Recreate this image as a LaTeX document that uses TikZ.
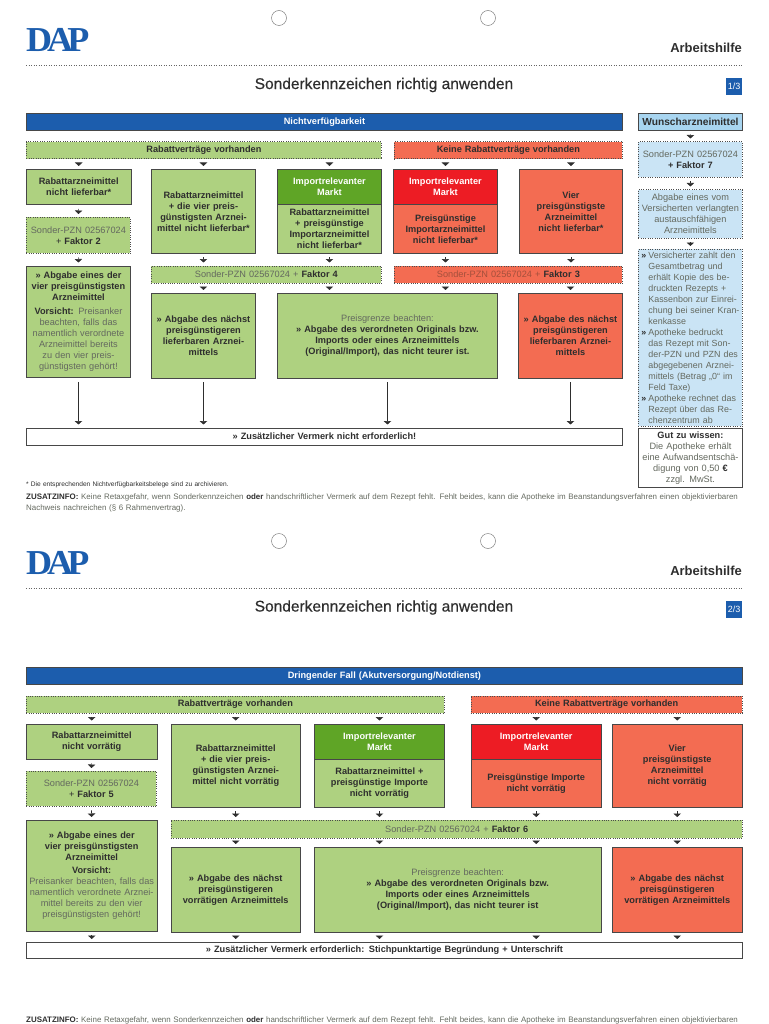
\documentclass[tikz,border=0pt]{standalone}
\usepackage{fontspec}
\setmainfont{Liberation Sans}
\newfontfamily\logofont{Liberation Serif}
\newfontfamily\titelfont[FakeBold=.4]{Liberation Sans}
\usetikzlibrary{calc,arrows.meta}
\definecolor{hgruen}{HTML}{AED180}
\definecolor{dgruen}{HTML}{5FA526}
\definecolor{hrot}{HTML}{F36C52}
\definecolor{drot}{HTML}{ED1C24}
\definecolor{dapblau}{HTML}{1C5DAD}
\definecolor{hblau}{HTML}{A8D5F0}
\definecolor{pblau}{HTML}{CAE4F5}
\definecolor{dunkel}{HTML}{2E2E2E}
\definecolor{grau}{HTML}{64695F}
\definecolor{graurot}{HTML}{A4503C}
\newcommand{\lt}[1]{\textcolor{grau}{#1}}
\newcommand{\pkt}{\hspace*{2pt}\makebox[7pt][l]{\textbf{»}}}
\newcommand{\ein}{\hspace*{9pt}}
\tikzset{every node/.style={align=center,text=dunkel,font=\fontsize{9.2}{11}\selectfont}}
\tikzset{
  feld/.style 2 args={anchor=north west,inner xsep=1pt,inner ysep=0pt,minimum width=#1,minimum height=#2,text width=#1-2pt},
  voll/.style={draw=black!72,line width=.9pt},
  punkt/.style={draw=black!70,line width=.8pt,dash pattern=on .8pt off 1.5pt},
  pfeil/.style={-{Triangle[width=7.5pt,length=3.5pt]},line width=.6pt,draw=dunkel,shorten <=3.5pt,shorten >=3pt},
  langpfeil/.style={-{Triangle[width=7.5pt,length=3.5pt]},line width=.7pt,draw=dunkel,shorten <=4pt,shorten >=3pt},
  logo/.style={anchor=west,inner sep=0pt,text=dapblau,font=\logofont\bfseries\fontsize{35}{35}\selectfont,xscale=1.03,transform shape},
  loch/.style={circle,draw=black!50,line width=.5pt,minimum size=15pt,inner sep=0pt},
  kopf/.style={anchor=east,inner sep=0pt,font=\bfseries\fontsize{13}{14}\selectfont},
  titel/.style={inner sep=0pt,font=\titelfont\fontsize{15.5}{18}\selectfont},
  seite/.style={fill=dapblau,text=white,inner sep=0pt,minimum width=16pt,minimum height=17pt,font=\fontsize{9}{9}\selectfont},
  trenn/.style={draw=black!60,line width=.7pt,dash pattern=on .7pt off 1.8pt},
  info/.style={anchor=north west,inner sep=0pt,align=left,text width=730pt,font=\fontsize{7.94}{11}\selectfont},
}
\begin{document}
\begin{tikzpicture}[x=1pt,y=-1pt,>=stealth]
\useasboundingbox (0,0) rectangle (768,1024);

% Seite 1
\node[logo] (D1) at (26,40) {D\kern-.14em A\kern-.16em P};
\node[loch] (H1) at (279,18) {};
\node[loch] (H2) at (488,18) {};
\node[kopf] (K1) at (742,48) {Arbeitshilfe};
\coordinate (T1a) at (26,65);
\coordinate (T1b) at (742,65);
\draw[trenn] (T1a) -- (T1b);
\node[titel] (S1) at (384,85) {Sonderkennzeichen richtig anwenden};
\node[seite] (P1) at (734,86.5) {1/3};

\node[feld={596pt}{17pt},voll,fill=dapblau,text=white] (NV) at (26,113) {\textbf{Nichtverfügbarkeit}};
\node[feld={104pt}{17pt},voll,fill=hblau,font=\fontsize{10.2}{11}\selectfont] (W) at (638,113) {\textbf{Wunscharzneimittel}};

\node[feld={355pt}{17pt},punkt,fill=hgruen] (RV) at (26,141.5) {\textbf{Rabattverträge vorhanden}};
\node[feld={228pt}{17pt},punkt,fill=hrot] (KR) at (394,141.5) {\textbf{Keine Rabattverträge vorhanden}};

\node[feld={104.5pt}{35.5pt},voll,fill=hgruen] (A1) at (26,169) {\textbf{Rabattarzneimittel}\\\textbf{nicht lieferbar*}};
\node[feld={104pt}{84pt},voll,fill=hgruen] (A2) at (151,169) {\textbf{Rabattarzneimittel}\\\textbf{+ die vier preis-}\\\textbf{günstigsten Arznei-}\\\textbf{mittel nicht lieferbar*}};
\node[feld={104pt}{48.5pt},voll,fill=hgruen] (I1b) at (277,204.5) {\textbf{Rabattarzneimittel}\\\textbf{+ preisgünstige}\\\textbf{Importarzneimittel}\\\textbf{nicht lieferbar*}};
\node[feld={104pt}{35.5pt},voll,fill=dgruen,text=white] (I1) at (277,169) {\textbf{Importrelevanter}\\\textbf{Markt}};
\node[feld={104pt}{48.5pt},voll,fill=hrot] (J1b) at (393,204.5) {\textbf{Preisgünstige}\\\textbf{Importarzneimittel}\\\textbf{nicht lieferbar*}};
\node[feld={104pt}{35.5pt},voll,fill=drot,text=white] (J1) at (393,169) {\textbf{Importrelevanter}\\\textbf{Markt}};
\node[feld={103pt}{84pt},voll,fill=hrot] (V1) at (519,169) {\textbf{Vier}\\\textbf{preisgünstigste}\\\textbf{Arzneimittel}\\\textbf{nicht lieferbar*}};

\node[feld={104pt}{36pt},punkt,fill=hgruen] (F2) at (26,217) {\lt{Sonder-PZN 02567024}\\+ \textbf{Faktor 2}};
\node[feld={230pt}{17.5pt},punkt,fill=hgruen] (F4) at (151,265.5) {\lt{Sonder-PZN 02567024 +} \textbf{Faktor 4}};
\node[feld={228pt}{17.5pt},punkt,fill=hrot] (F3) at (394,265.5) {\textcolor{graurot}{Sonder-PZN 02567024 +} \textbf{Faktor 3}};

\node[feld={104pt}{111.5pt},voll,fill=hgruen] (L1) at (26,265.5) {\textbf{» Abgabe eines der}\\\textbf{vier preisgünstigsten}\\\textbf{Arzneimittel}\\[3pt]\textbf{Vorsicht:} \lt{Preisanker}\\\lt{beachten, falls das}\\\lt{namentlich verordnete}\\\lt{Arzneimittel bereits}\\\lt{zu den vier preis-}\\\lt{günstigsten gehört!}};
\node[feld={104pt}{84.5pt},voll,fill=hgruen] (L2) at (151,293) {\textbf{» Abgabe des nächst}\\\textbf{preisgünstigeren}\\\textbf{lieferbaren Arznei-}\\\textbf{mittels}};
\node[feld={220pt}{84.5pt},voll,fill=hgruen] (L3) at (277,293) {\lt{Preisgrenze beachten:}\\\textbf{» Abgabe des verordneten Originals bzw.}\\\textbf{Imports oder eines Arzneimittels}\\\textbf{(Original/Import), das nicht teurer ist.}};
\node[feld={104pt}{84.5pt},voll,fill=hrot] (L4) at (518,293) {\textbf{» Abgabe des nächst}\\\textbf{preisgünstigeren}\\\textbf{lieferbaren Arznei-}\\\textbf{mittels}};
\node[feld={596pt}{17.5pt},voll,fill=white] (Z1) at (26,427.5) {\textbf{» Zusätzlicher Vermerk nicht erforderlich!}};

\node[feld={104pt}{35.5pt},punkt,fill=pblau] (F7) at (638,141.5) {\lt{Sonder-PZN 02567024}\\\textbf{+ Faktor 7}};
\node[feld={104pt}{48.5pt},punkt,fill=pblau] (W2) at (638,189.5) {\lt{Abgabe eines vom}\\\lt{Versicherten verlangten}\\\lt{austauschfähigen}\\\lt{Arzneimittels}};
\node[feld={104pt}{177pt},punkt,fill=pblau,align=left,font=\fontsize{8.9}{11}\selectfont] (W3) at (638,249) {\pkt\lt{Versicherter zahlt den}\\\ein\lt{Gesamtbetrag und}\\\ein\lt{erhält Kopie des be-}\\\ein\lt{druckten Rezepts +}\\\ein\lt{Kassenbon zur Einrei-}\\\ein\lt{chung bei seiner Kran-}\\\ein\lt{kenkasse}\\\pkt\lt{Apotheke bedruckt}\\\ein\lt{das Rezept mit Son-}\\\ein\lt{der-PZN und PZN des}\\\ein\lt{abgegebenen Arznei-}\\\ein\lt{mittels (Betrag „0“ im}\\\ein\lt{Feld Taxe)}\\\pkt\lt{Apotheke rechnet das}\\\ein\lt{Rezept über das Re-}\\\ein\lt{chenzentrum ab}};
\node[feld={104pt}{59pt},voll,fill=white] (G1) at (638,428) {\textbf{Gut zu wissen:}\\\lt{Die Apotheke erhält}\\\lt{eine Aufwandsentschä-}\\\lt{digung von 0,50} \textbf{€}\\\lt{zzgl. MwSt.}};

\draw[pfeil] (W.south) -- (F7.north);
\draw[pfeil] (F7.south) -- (W2.north);
\draw[pfeil] (W2.south) -- (W3.north);
\draw[pfeil] (RV.south -| A1.north) -- (A1.north);
\draw[pfeil] (RV.south -| A2.north) -- (A2.north);
\draw[pfeil] (RV.south -| I1.north) -- (I1.north);
\draw[pfeil] (KR.south -| J1.north) -- (J1.north);
\draw[pfeil] (KR.south -| V1.north) -- (V1.north);
\draw[pfeil] (A1.south) -- (F2.north);
\draw[pfeil] (F2.south) -- (L1.north);
\draw[pfeil] (A2.south) -- (A2.south |- F4.north);
\draw[pfeil] (I1b.south) -- (I1b.south |- F4.north);
\draw[pfeil] (J1b.south) -- (J1b.south |- F3.north);
\draw[pfeil] (V1.south) -- (V1.south |- F3.north);
\draw[pfeil] (L2.north |- F4.south) -- (L2.north);
\draw[pfeil] (I1b.south |- F4.south) -- (I1b.south |- L3.north);
\draw[pfeil] (J1b.south |- F3.south) -- (J1b.south |- L3.north);
\draw[pfeil] (L4.north |- F3.south) -- (L4.north);
\draw[langpfeil] (L1.south) -- (L1.south |- Z1.north);
\draw[langpfeil] (L2.south) -- (L2.south |- Z1.north);
\draw[langpfeil] (L3.south) -- (L3.south |- Z1.north);
\draw[langpfeil] (L4.south) -- (L4.south |- Z1.north);

\node[info,font=\fontsize{6.6}{7}\selectfont] (N1) at (26,482) {* Die entsprechenden Nichtverfügbarkeitsbelege sind zu archivieren.};
\node[info] (N2) at (26,494) {\textbf{ZUSATZINFO:} \lt{Keine Retaxgefahr, wenn Sonderkennzeichen} \textbf{oder} \lt{handschriftlicher Vermerk auf dem Rezept fehlt. Fehlt beides, kann die Apotheke im Beanstandungsverfahren einen objektivierbaren}\\\lt{Nachweis nachreichen (§ 6 Rahmenvertrag).}};

% Seite 2
\node[logo] (D2) at (26,563) {D\kern-.14em A\kern-.16em P};
\node[loch] (H3) at (279,541) {};
\node[loch] (H4) at (488,541) {};
\node[kopf] (K2) at (742,571) {Arbeitshilfe};
\coordinate (T2a) at (26,588);
\coordinate (T2b) at (742,588);
\draw[trenn] (T2a) -- (T2b);
\node[titel] (S2) at (384,607.5) {Sonderkennzeichen richtig anwenden};
\node[seite] (P2) at (734,609) {2/3};

\node[feld={716pt}{17pt},voll,fill=dapblau,text=white] (DF) at (26,667) {\textbf{Dringender Fall (Akutversorgung/Notdienst)}};
\node[feld={418pt}{17pt},punkt,fill=hgruen] (RVb) at (26,695.5) {\textbf{Rabattverträge vorhanden}};
\node[feld={271.5pt}{17pt},punkt,fill=hrot] (KRb) at (470.5,695.5) {\textbf{Keine Rabattverträge vorhanden}};

\node[feld={130.5pt}{35.5pt},voll,fill=hgruen] (B1) at (26,723.5) {\textbf{Rabattarzneimittel}\\\textbf{nicht vorrätig}};
\node[feld={129.5pt}{83.5pt},voll,fill=hgruen] (B2) at (170.5,723.5) {\textbf{Rabattarzneimittel}\\\textbf{+ die vier preis-}\\\textbf{günstigsten Arznei-}\\\textbf{mittel nicht vorrätig}};
\node[feld={130pt}{48pt},voll,fill=hgruen] (I2b) at (314,759) {\textbf{Rabattarzneimittel +}\\\textbf{preisgünstige Importe}\\\textbf{nicht vorrätig}};
\node[feld={130pt}{35.5pt},voll,fill=dgruen,text=white] (I2) at (314,723.5) {\textbf{Importrelevanter}\\\textbf{Markt}};
\node[feld={129.5pt}{48pt},voll,fill=hrot] (J2b) at (471,759) {\textbf{Preisgünstige Importe}\\\textbf{nicht vorrätig}};
\node[feld={129.5pt}{35.5pt},voll,fill=drot,text=white] (J2) at (471,723.5) {\textbf{Importrelevanter}\\\textbf{Markt}};
\node[feld={130.5pt}{83.5pt},voll,fill=hrot] (V2) at (611.5,723.5) {\textbf{Vier}\\\textbf{preisgünstigste}\\\textbf{Arzneimittel}\\\textbf{nicht vorrätig}};

\node[feld={130pt}{35pt},punkt,fill=hgruen] (F5) at (26,771) {\lt{Sonder-PZN 02567024}\\+ \textbf{Faktor 5}};
\node[feld={571.5pt}{17.5pt},punkt,fill=hgruen] (F6) at (170.5,820) {\lt{Sonder-PZN 02567024 +} \textbf{Faktor 6}};

\node[feld={130.5pt}{111pt},voll,fill=hgruen] (M1) at (26,820) {\textbf{» Abgabe eines der}\\\textbf{vier preisgünstigsten}\\\textbf{Arzneimittel}\\[2pt]\textbf{Vorsicht:}\\\lt{Preisanker beachten, falls das}\\\lt{namentlich verordnete Arznei-}\\\lt{mittel bereits zu den vier}\\\lt{preisgünstigsten gehört!}};
\node[feld={129.5pt}{85pt},voll,fill=hgruen] (M2) at (170.5,847) {\textbf{» Abgabe des nächst}\\\textbf{preisgünstigeren}\\\textbf{vorrätigen Arzneimittels}};
\node[feld={286.5pt}{85pt},voll,fill=hgruen] (M3) at (314,847) {\lt{Preisgrenze beachten:}\\\textbf{» Abgabe des verordneten Originals bzw.}\\\textbf{Imports oder eines Arzneimittels}\\\textbf{(Original/Import), das nicht teurer ist}};
\node[feld={130.5pt}{85pt},voll,fill=hrot] (M4) at (611.5,847) {\textbf{» Abgabe des nächst}\\\textbf{preisgünstigeren}\\\textbf{vorrätigen Arzneimittels}};
\node[feld={716pt}{16pt},voll,fill=white] (Z2) at (26,942) {\textbf{» Zusätzlicher Vermerk erforderlich: Stichpunktartige Begründung + Unterschrift}};

\draw[pfeil] (RVb.south -| B1.north) -- (B1.north);
\draw[pfeil] (RVb.south -| B2.north) -- (B2.north);
\draw[pfeil] (RVb.south -| I2.north) -- (I2.north);
\draw[pfeil] (KRb.south -| J2.north) -- (J2.north);
\draw[pfeil] (KRb.south -| V2.north) -- (V2.north);
\draw[pfeil] (B1.south) -- (F5.north);
\draw[pfeil] (F5.south) -- (M1.north);
\draw[pfeil] (B2.south) -- (B2.south |- F6.north);
\draw[pfeil] (I2b.south) -- (I2b.south |- F6.north);
\draw[pfeil] (J2b.south) -- (J2b.south |- F6.north);
\draw[pfeil] (V2.south) -- (V2.south |- F6.north);
\draw[pfeil] (M2.north |- F6.south) -- (M2.north);
\draw[pfeil] (I2b.south |- F6.south) -- (I2b.south |- M3.north);
\draw[pfeil] (J2b.south |- F6.south) -- (J2b.south |- M3.north);
\draw[pfeil] (M4.north |- F6.south) -- (M4.north);
\draw[pfeil] (M1.south) -- (M1.south |- Z2.north);
\draw[pfeil] (M2.south) -- (M2.south |- Z2.north);
\draw[pfeil] (I2b.south |- M3.south) -- (I2b.south |- Z2.north);
\draw[pfeil] (J2b.south |- M3.south) -- (J2b.south |- Z2.north);
\draw[pfeil] (M4.south) -- (M4.south |- Z2.north);

\node[info] (N3) at (26,1017) {\textbf{ZUSATZINFO:} \lt{Keine Retaxgefahr, wenn Sonderkennzeichen} \textbf{oder} \lt{handschriftlicher Vermerk auf dem Rezept fehlt. Fehlt beides, kann die Apotheke im Beanstandungsverfahren einen objektivierbaren}};
\end{tikzpicture}
\end{document}
